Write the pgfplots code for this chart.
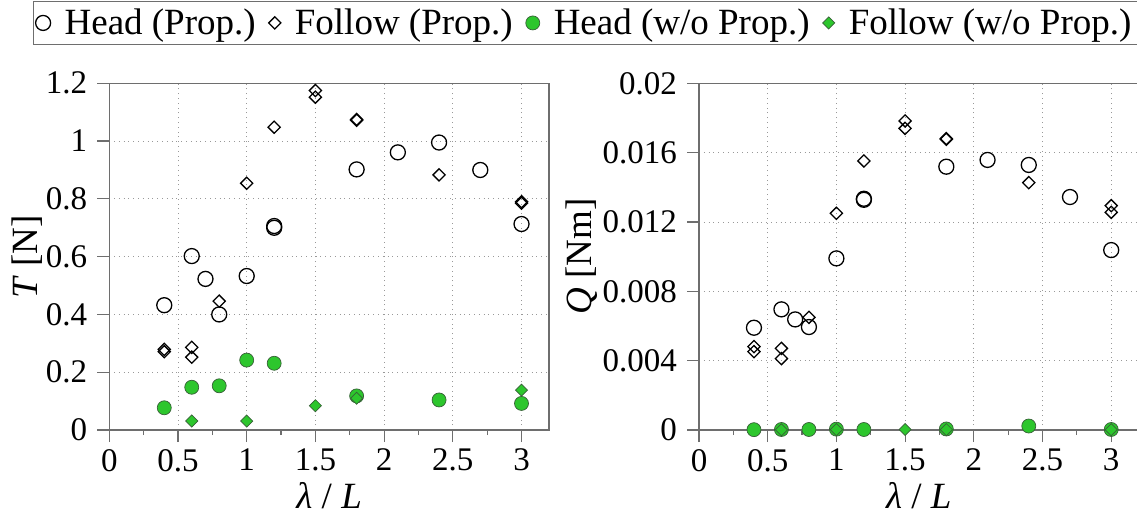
\documentclass[border=0pt]{standalone}
\usepackage{fontspec}
\setmainfont{Liberation Serif}
\usepackage{pgfplots}
\pgfplotsset{compat=1.18}
\definecolor{grn}{RGB}{45,198,45}
\definecolor{grnedge}{RGB}{55,95,55}
\definecolor{axgray}{RGB}{110,110,110}
\newcommand{\tkfont}{\fontsize{16.5}{16.5}\selectfont\rmfamily}
\pgfplotsset{
  myaxis/.style={
    scale only axis, width=219.85pt, height=173.35pt,
    xmin=0, xmax=3.2, ymin=0,
    xtick={0,0.5,1,1.5,2,2.5,3},
    minor xtick={0.25,0.75,1.25,1.75,2.25,2.75},
    scaled y ticks=false, scaled x ticks=false,
    /pgf/number format/fixed, /pgf/number format/precision=3,
    /pgf/number format/assume math mode=true,
    tick align=outside, major tick length=6pt, minor tick length=2.5pt,
    xmajorgrids, ymajorgrids,
    grid style={black!40, dotted, line width=0.4pt},
    axis line style={axgray, line width=0.6pt},
    every tick/.style={axgray, line width=0.6pt},
    xticklabel style={font=\tkfont},
    yticklabel style={font=\tkfont, xshift=-1.5pt},
    xtick pos=bottom, ytick pos=left,
    clip=false,
    every axis x label/.style={at={(axis description cs:0.5,-0.19)},anchor=center,font=\fontsize{18.5}{18.5}\selectfont,inner sep=1pt},
  },
  headP/.style={only marks, mark=o, mark size=3.75pt, mark options={draw=black, line width=0.65pt}},
  followP/.style={only marks, mark=square, mark size=2.15pt, mark options={draw=black, line width=0.65pt, rotate=45}},
  headW/.style={only marks, mark=*, mark size=3.5pt, mark options={draw=grnedge, fill=grn, line width=0.35pt}},
  followW/.style={only marks, mark=square*, mark size=2.15pt, mark options={draw=grnedge, fill=grn, line width=0.35pt, rotate=45}},
}
\begin{document}
\begin{tikzpicture}
\path[use as bounding box] (0,0) rectangle (568.5pt,-257.5pt);
\begin{axis}[myaxis,
  at={(54.65pt,-215pt)}, anchor=south west,
  ymax=1.2,
  ytick={0,0.2,0.4,0.6,0.8,1,1.2},
  xlabel={\textit{λ} / \textit{L}},
  ylabel={\textit{T} [N]},
  every axis y label/.style={at={(axis description cs:-0.187,0.5)},rotate=90,anchor=center,font=\fontsize{18.5}{18.5}\selectfont},
  legend columns=4,
  legend style={at={(axis description cs:-0.1735,1.2374)}, anchor=north west,
    draw=axgray, fill=white, line width=0.6pt, inner sep=1pt,
    font=\fontsize{18.5}{18.5}\selectfont,
    /tikz/every odd column/.append style={column sep=4.5pt},
    /tikz/every even column/.append style={column sep=4pt},
    nodes={inner sep=2.5pt}},
]
\addplot[headP] coordinates {(0.4,0.432)(0.6,0.602)(0.7,0.523)(0.8,0.400)(1.0,0.533)(1.2,0.700)(1.2,0.706)(1.8,0.902)(2.1,0.961)(2.4,0.995)(2.7,0.900)(3.0,0.713)};
\addlegendentry{Head (Prop.)}
\addplot[followP] coordinates {(0.4,0.279)(0.4,0.271)(0.6,0.286)(0.6,0.252)(0.8,0.446)(1.0,0.854)(1.2,1.048)(1.5,1.175)(1.5,1.152)(1.8,1.072)(1.8,1.075)(2.4,0.883)(3.0,0.785)(3.0,0.790)};
\addlegendentry{Follow (Prop.)}
\addplot[headW] coordinates {(0.4,0.077)(0.6,0.148)(0.8,0.153)(1.0,0.242)(1.2,0.231)(1.8,0.118)(2.4,0.104)(3.0,0.092)};
\addlegendentry{Head (w/o Prop.)}
\addplot[followW] coordinates {(0.6,0.031)(1.0,0.031)(1.5,0.084)(1.8,0.110)(3.0,0.138)};
\addlegendentry{Follow (w/o Prop.)}
\end{axis}
\begin{axis}[myaxis,
  at={(349.5pt,-215pt)}, anchor=south west,
  ymax=0.02,
  ytick={0,0.004,0.008,0.012,0.016,0.02},
  xlabel={\textit{λ} / \textit{L}},
  ylabel={\textit{Q} [Nm]},
  every axis y label/.style={at={(axis description cs:-0.266,0.5)},rotate=90,anchor=center,font=\fontsize{18.5}{18.5}\selectfont},
]
\addplot[headP] coordinates {(0.4,0.00590)(0.6,0.00696)(0.7,0.00638)(0.8,0.00594)(1.0,0.00990)(1.2,0.01328)(1.2,0.01334)(1.8,0.01519)(2.1,0.01558)(2.4,0.01529)(2.7,0.01344)(3.0,0.01038)};
\addplot[followP] coordinates {(0.4,0.00481)(0.4,0.00452)(0.6,0.00471)(0.6,0.00412)(0.8,0.00650)(1.0,0.01250)(1.2,0.01552)(1.5,0.01783)(1.5,0.01740)(1.8,0.01677)(1.8,0.01681)(2.4,0.01427)(3.0,0.01294)(3.0,0.01256)};
\addplot[headW] coordinates {(0.4,0.00002)(0.6,0.00003)(0.8,0.00003)(1.0,0.00005)(1.2,0.00003)(1.8,0.00006)(2.4,0.00023)(3.0,0.00003)};
\addplot[followW] coordinates {(0.6,0.00001)(1.0,0.00002)(1.5,0.00003)(1.8,0.00002)(3.0,0.00002)};
\end{axis}
\end{tikzpicture}
\end{document}
